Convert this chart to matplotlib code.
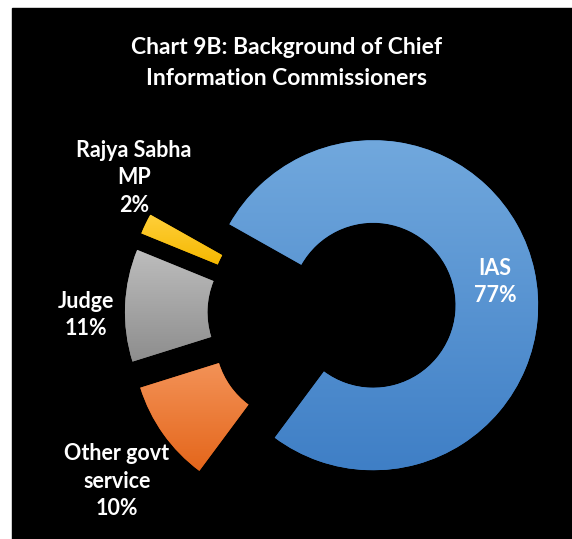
import numpy as np
import matplotlib
matplotlib.use("Agg")
import matplotlib.pyplot as plt
from matplotlib.colors import LinearSegmentedColormap
from matplotlib.patches import Rectangle

plt.rcParams["font.family"] = ["Lato", "DejaVu Sans"]

# data
categories = ["IAS", "Other govt\nservice", "Judge", "Rajya Sabha\nMP"]
shares = [77, 10, 11, 2]
# gradient colours for each slice (top, bottom)
top_colors = ["#71a8dd", "#f39257", "#bdbdbd", "#ffcf3a"]
bottom_colors = ["#3f7fc6", "#e4661b", "#8d8d8d", "#f5b800"]

W, H = 572, 539
fig = plt.figure(figsize=(W / 100, H / 100), dpi=100)
fig.patch.set_facecolor("white")
fig.add_artist(Rectangle((12 / W, 0), (W - 12) / W, (H - 8) / H,
                         transform=fig.transFigure, color="black", zorder=0))

ax = fig.add_axes([0, 0, 1, 1])
ax.set_facecolor("none")
ax.axis("off")

# pie centre and radius in pixels
cx, cy, R = 332, 314, 165

wedges, _ = ax.pie(shares, radius=1, startangle=150.6, counterclock=False,
                   explode=[0.255] * len(shares),
                   wedgeprops=dict(width=0.5, linewidth=0))

grad = np.linspace(0, 1, 256).reshape(-1, 1)
for w, c0, c1 in zip(wedges, top_colors, bottom_colors):
    w.set_facecolor(c1)
    bb = w.get_path().get_extents()
    cmap = LinearSegmentedColormap.from_list("g", [c0, c1])
    im = ax.imshow(grad, cmap=cmap, aspect="auto", origin="upper",
                   extent=[bb.x0, bb.x1, bb.y0, bb.y1], zorder=2,
                   interpolation="bilinear")
    im.set_clip_path(w)

ax.set_xlim(-cx / R, (W - cx) / R)
ax.set_ylim(-(H - cy) / R, cy / R)
ax.set_aspect("auto")

# title
fig.text(287 / W, 1 - 63 / H, "Chart 9B: Background of Chief\nInformation Commissioners",
         ha="center", va="center", color="white", fontsize=16.5,
         fontweight="bold", linespacing=1.55)

# data labels
label_pos = [(495, 282), (117, 481), (86, 315), (134, 178)]
for name, val, (lx, ly) in zip(categories, shares, label_pos):
    fig.text(lx / W, 1 - ly / H, f"{name}\n{val}%", ha="center", va="center",
             color="white", fontsize=15.5, fontweight="bold", linespacing=1.37)

fig.savefig("out.png", dpi=100, facecolor=fig.get_facecolor())
